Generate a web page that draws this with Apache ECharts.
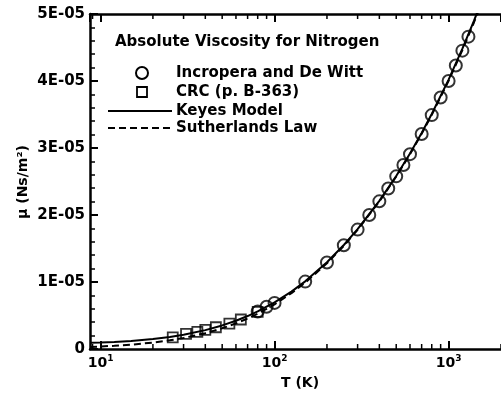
<!DOCTYPE html>
<html>
<head>
<meta charset="utf-8">
<script src="https://cdn.jsdelivr.net/npm/echarts@6/dist/echarts.min.js"></script>
<style>
  html, body { margin: 0; padding: 0; background: #fff; }
  #chart { width: 501px; height: 396px; }
</style>
</head>
<body>
<div id="chart"></div>
<script>
// Absolute viscosity of nitrogen, mu in N·s/m², T in K
const incroperaT  = [80, 90, 100, 150, 200, 250, 300, 350, 400, 450, 500, 550, 600, 700, 800, 900, 1000, 1100, 1200, 1300];
const incroperaMu = [5.6e-6, 6.3e-6, 6.88e-6, 10.06e-6, 12.92e-6, 15.49e-6, 17.82e-6, 20.00e-6, 22.04e-6, 23.96e-6,
                     25.77e-6, 27.47e-6, 29.08e-6, 32.10e-6, 34.91e-6, 37.53e-6, 39.99e-6, 42.32e-6, 44.53e-6, 46.62e-6];

const crcT  = [26, 31, 36, 40, 46, 55, 64, 80];
const crcMu = [1.75e-6, 2.25e-6, 2.55e-6, 2.85e-6, 3.25e-6, 3.8e-6, 4.4e-6, 5.55e-6];

const modelT = [8.7, 10, 12, 15, 20, 25, 30, 40, 50, 60, 70, 80, 100, 125, 150, 200, 250, 300, 400, 500, 600, 700, 800, 1000, 1200, 1400, 1600];
const keyesMu = [0.92e-6, 0.96e-6, 1.04e-6, 1.19e-6, 1.48e-6, 1.80e-6, 2.13e-6, 2.82e-6, 3.52e-6, 4.22e-6, 4.92e-6, 5.61e-6,
                 6.96e-6, 8.57e-6, 10.10e-6, 12.94e-6, 15.52e-6, 17.88e-6, 22.11e-6, 25.83e-6, 29.18e-6, 32.24e-6, 35.08e-6,
                 40.21e-6, 44.82e-6, 49.01e-6, 52.9e-6];
const sutherlandMu = [0.30e-6, 0.37e-6, 0.48e-6, 0.65e-6, 0.96e-6, 1.29e-6, 1.64e-6, 2.36e-6, 3.09e-6, 3.82e-6, 4.55e-6, 5.27e-6,
                      6.67e-6, 8.33e-6, 9.90e-6, 12.79e-6, 15.40e-6, 17.79e-6, 22.02e-6, 25.74e-6, 29.08e-6, 32.13e-6, 34.94e-6,
                      40.04e-6, 44.61e-6, 48.77e-6, 52.62e-6];

// Axis ranges and tick values
const xMin = 8.7, xMax = 2000;
const yMin = 0, yMax = 5e-5, yStep = 1e-5;
const xMinorTicks = [9, 20, 30, 40, 50, 60, 70, 80, 90, 200, 300, 400, 500, 600, 700, 800, 900, 2000];

const legendTitle = 'Absolute Viscosity for Nitrogen';
const seriesNames = ['Incropera and De Witt', 'CRC (p. B-363)', 'Keyes Model', 'Sutherlands Law'];

const FONT = 'DejaVu Sans';
const pairs = (xs, ys) => xs.map((x, i) => [x, ys[i]]);

const chart = echarts.init(document.getElementById('chart'), null, { renderer: 'canvas' });

const xAxisBase = {
  type: 'log', logBase: 10, min: xMin, max: xMax,
  splitLine: { show: false },
  axisLine: { show: true, lineStyle: { color: '#000', width: 2.5 } },
  axisTick: { show: true, inside: true, length: 8, lineStyle: { color: '#000', width: 2 } }
};

const option = {
  animation: false,
  backgroundColor: '#fff',
  grid: { left: 90, top: 14, width: 414, height: 335, containLabel: false },
  xAxis: [
    Object.assign({}, xAxisBase, {
      position: 'bottom',
      axisLabel: {
        show: true, margin: 5, showMinLabel: false, showMaxLabel: false,
        formatter: function (v) {
          const e = Math.log10(v);
          if (Math.abs(e - Math.round(e)) > 1e-6) return '';
          return '{b|10}{s|' + Math.round(e) + '}';
        },
        rich: {
          b: { fontFamily: FONT, fontWeight: 'bold', fontSize: 14, color: '#000' },
          s: { fontFamily: FONT, fontWeight: 'bold', fontSize: 9, color: '#000', padding: [0, 0, 9, 0] }
        }
      }
    }),
    Object.assign({}, xAxisBase, {
      position: 'top',
      axisLabel: { show: false }
    })
  ],
  yAxis: {
    type: 'value', min: yMin, max: yMax, interval: yStep,
    splitLine: { show: false },
    axisLine: { show: true, lineStyle: { color: '#000', width: 2.5 } },
    axisTick: { show: true, inside: true, length: 8, lineStyle: { color: '#000', width: 2 } },
    minorTick: { show: true, splitNumber: 5, length: 5, lineStyle: { color: '#000', width: 1.5 } },
    axisLabel: {
      margin: 5, color: '#000', fontFamily: FONT, fontWeight: 'bold', fontSize: 15,
      formatter: function (v) {
        const m = Math.round(v / 1e-5);
        return m === 0 ? '0' : m + 'E-05';
      }
    }
  },
  series: [
    {
      name: 'minor ticks', type: 'custom', xAxisIndex: 0, yAxisIndex: 0,
      silent: true, clip: false, z: 5,
      data: xMinorTicks.map(v => [v]),
      encode: { x: 0 },
      renderItem: function (params, api) {
        const v = api.value(0);
        const b = api.coord([v, yMin]);
        const t = api.coord([v, yMax]);
        const st = { stroke: '#000', lineWidth: 1.5 };
        return {
          type: 'group',
          children: [
            { type: 'line', shape: { x1: b[0], y1: b[1], x2: b[0], y2: b[1] - 5 }, style: st },
            { type: 'line', shape: { x1: t[0], y1: t[1], x2: t[0], y2: t[1] + 5 }, style: st }
          ]
        };
      }
    },
    {
      name: seriesNames[2], type: 'line', data: pairs(modelT, keyesMu),
      showSymbol: false, symbol: 'none', clip: true,
      lineStyle: { color: '#000', width: 2 }
    },
    {
      name: seriesNames[3], type: 'line', data: pairs(modelT, sutherlandMu),
      showSymbol: false, symbol: 'none', clip: true,
      lineStyle: { color: '#000', width: 2, type: [7, 4] }
    },
    {
      name: seriesNames[1], type: 'scatter', data: pairs(crcT, crcMu),
      symbol: 'rect', symbolSize: 10,
      itemStyle: { color: 'rgba(255,255,255,0)', borderColor: '#000', borderWidth: 1.8 }
    },
    {
      name: seriesNames[0], type: 'scatter', data: pairs(incroperaT, incroperaMu),
      symbol: 'circle', symbolSize: 12,
      itemStyle: { color: 'rgba(255,255,255,0)', borderColor: '#000', borderWidth: 2 }
    }
  ],
  graphic: [
    // axis titles
    { type: 'text', x: 300, y: 383,
      style: { text: 'T (K)', fontFamily: FONT, fontWeight: 'bold', fontSize: 14, fill: '#000', align: 'center', verticalAlign: 'middle' } },
    { type: 'text', x: 23, y: 182, rotation: Math.PI / 2,
      style: { text: 'μ (Ns/m²)', fontFamily: FONT, fontWeight: 'bold', fontSize: 14, fill: '#000', align: 'center', verticalAlign: 'middle' } },
    // legend block
    { type: 'text', x: 115, y: 42,
      style: { text: legendTitle, fontFamily: FONT, fontWeight: 'bold', fontSize: 15, fill: '#000', align: 'left', verticalAlign: 'middle' } },
    { type: 'circle', shape: { cx: 142, cy: 73, r: 6 }, style: { fill: 'none', stroke: '#000', lineWidth: 2 } },
    { type: 'text', x: 176, y: 73,
      style: { text: seriesNames[0], fontFamily: FONT, fontWeight: 'bold', fontSize: 15, fill: '#000', verticalAlign: 'middle' } },
    { type: 'rect', shape: { x: 137, y: 87, width: 10, height: 10 }, style: { fill: 'none', stroke: '#000', lineWidth: 1.8 } },
    { type: 'text', x: 176, y: 92,
      style: { text: seriesNames[1], fontFamily: FONT, fontWeight: 'bold', fontSize: 15, fill: '#000', verticalAlign: 'middle' } },
    { type: 'line', shape: { x1: 108, y1: 111, x2: 172, y2: 111 }, style: { stroke: '#000', lineWidth: 2 } },
    { type: 'text', x: 176, y: 111,
      style: { text: seriesNames[2], fontFamily: FONT, fontWeight: 'bold', fontSize: 15, fill: '#000', verticalAlign: 'middle' } },
    { type: 'line', shape: { x1: 108, y1: 128, x2: 172, y2: 128 }, style: { stroke: '#000', lineWidth: 2, lineDash: [7, 4] } },
    { type: 'text', x: 176, y: 128,
      style: { text: seriesNames[3], fontFamily: FONT, fontWeight: 'bold', fontSize: 15, fill: '#000', verticalAlign: 'middle' } }
  ]
};

chart.setOption(option);
</script>
</body>
</html>
